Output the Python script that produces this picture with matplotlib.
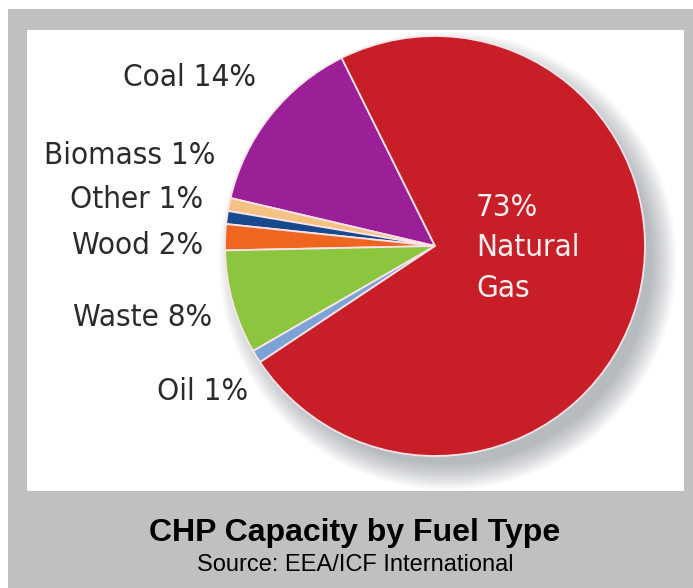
import matplotlib
matplotlib.use("Agg")
import matplotlib.pyplot as plt
from matplotlib.patches import Rectangle, Circle
from matplotlib import font_manager

# ---- data ----
categories = ["Coal", "Biomass", "Other", "Wood", "Waste", "Oil", "Natural Gas"]
shares = [14, 1, 1, 2, 8, 1, 73]
colors = ["#9b1f96", "#f4c283", "#174a8c", "#f0661f", "#8cc63f", "#7ba3d6", "#c81e28"]
label_texts = ["Coal 14%", "Biomass 1%", "Other 1%", "Wood 2%", "Waste 8%", "Oil 1%"]
inner_text = "73%\nNatural\nGas"
title = "CHP Capacity by Fuel Type"
subtitle = "Source: EEA/ICF International"

W, H = 693, 588
fig = plt.figure(figsize=(W / 100, H / 100), dpi=100)
fig.patch.set_facecolor("white")

def fx(px):
    return px / W

def fy(py):
    return 1 - py / H

# frame
fig.patches.append(Rectangle((fx(8), 0), 1 - fx(8), fy(9), transform=fig.transFigure,
                             facecolor="#c0c0c0", edgecolor="none", zorder=-2))
fig.patches.append(Rectangle((fx(27), fy(491)), fx(684) - fx(27), fy(30) - fy(491),
                             transform=fig.transFigure, facecolor="white",
                             edgecolor="none", zorder=-1))

# pie axes: center (435,246) px, radius 210 px; axes spans 1.3 radii
cx, cy, r = 435, 246, 210
ext = 1.3
ax = fig.add_axes([fx(cx - r * ext), fy(cy + r * ext), 2 * r * ext / W, 2 * r * ext / H])
ax.set_zorder(1)
ax.patch.set_alpha(0)
ax.set_axis_off()

# soft shadow toward the lower right
for i in range(16):
    ax.add_patch(Circle((0.06, -0.07), 0.97 + i * 0.008, facecolor="#5a6470",
                        edgecolor="none", alpha=0.03, zorder=0))
ax.add_patch(Circle((0, 0), 1.0, facecolor="white", edgecolor="none", zorder=0.5))

wedges, _ = ax.pie(shares, colors=colors, startangle=116.4, counterclock=True,
                   radius=1.0, wedgeprops=dict(edgecolor="#fbe3e8", linewidth=1.3))
for w in wedges:
    w.set_zorder(2)
ax.set_xlim(-ext, ext)
ax.set_ylim(-ext, ext)
ax.set_aspect("equal")

narrow = font_manager.FontProperties(family="DejaVu Sans", stretch="condensed", size=22.5)

label_pos = [(256, 78), (215, 155), (203, 200), (203, 245), (212, 318), (248, 392)]
for t, (x, y) in zip(label_texts, label_pos):
    fig.text(fx(x), fy(y), t, ha="right", va="center", fontproperties=narrow,
             color="#2b2b2b", zorder=3)

fig.text(fx(476), fy(248), inner_text, ha="left", va="center", fontproperties=narrow,
         color="#fdf0f0", linespacing=1.5, zorder=3)

fig.text(fx(355), fy(533), title, ha="center", va="center", fontsize=23,
         fontweight="bold", family=["Liberation Sans", "DejaVu Sans"], color="black")
fig.text(fx(355), fy(565), subtitle, ha="center", va="center", fontsize=17,
         family=["Liberation Sans", "DejaVu Sans"], color="black")

fig.savefig("out.png", dpi=100)
